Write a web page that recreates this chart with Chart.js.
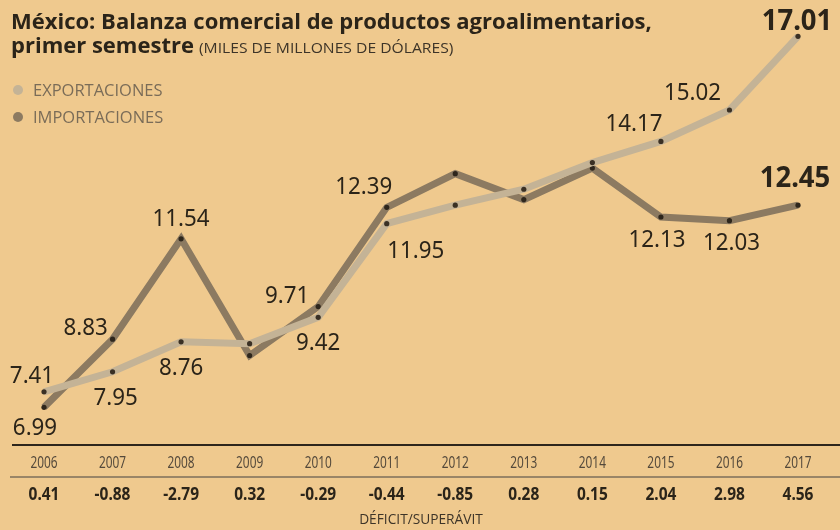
<!DOCTYPE html>
<html>
<head>
<meta charset="utf-8">
<script src="https://cdn.jsdelivr.net/npm/chart.js@4.4.1/dist/chart.umd.min.js"></script>
<style>
  html, body { margin: 0; padding: 0; background: #efc98e; }
  #wrap { width: 840px; height: 530px; }
</style>
</head>
<body>
<div id="wrap"><canvas id="grafica" width="840" height="530"></canvas></div>
<script>
// Datos (miles de millones de dólares, primer semestre)
const anios = ['2006', '2007', '2008', '2009', '2010', '2011', '2012', '2013', '2014', '2015', '2016', '2017'];
const exportaciones = [7.41, 7.95, 8.76, 8.71, 9.42, 11.95, 12.45, 12.88, 13.60, 14.17, 15.02, 17.01];
const importaciones = [6.99, 8.83, 11.54, 8.39, 9.71, 12.39, 13.30, 12.60, 13.45, 12.13, 12.03, 12.45];
const saldo = ['0.41', '-0.88', '-2.79', '0.32', '-0.29', '-0.44', '-0.85', '0.28', '0.15', '2.04', '2.98', '4.56'];

// qué puntos llevan etiqueta y dónde (desplazamiento respecto al punto)
const etiquetasExp = { 0: [-12, -9], 1: [3, 33], 2: [0, 33], 4: [0, 33], 5: [29, 34], 9: [-27, -10], 10: [-37, -10], 11: [-1, -6, true] };
const etiquetasImp = { 0: [-9, 28], 1: [-27, -4], 2: [0, -13], 4: [-31, -4], 5: [-23, -13], 9: [-4, 30], 10: [2, 29], 11: [-3, -18, true] };

const TINTA = '#2b2419';
const FONDO = '#efc98e';
const COL_EXP = '#c4b396';
const COL_IMP = '#8c7a61';

// texto con escala horizontal (la tipografía original es condensada)
function txt(ctx, s, x, y, font, color, align, sx) {
  ctx.save();
  ctx.font = font;
  ctx.fillStyle = color;
  ctx.textBaseline = 'alphabetic';
  const w = ctx.measureText(s).width * sx;
  let x0 = x;
  if (align === 'center') x0 = x - w / 2;
  if (align === 'right') x0 = x - w;
  ctx.translate(x0, y);
  ctx.scale(sx, 1);
  ctx.fillText(s, 0, 0);
  ctx.restore();
  return w;
}

const fondo = {
  id: 'fondo',
  beforeDraw(chart) {
    const c = chart.ctx;
    c.save();
    c.fillStyle = FONDO;
    c.fillRect(0, 0, chart.width, chart.height);
    c.restore();
  }
};

const etiquetas = {
  id: 'etiquetas',
  afterDatasetsDraw(chart) {
    const c = chart.ctx;
    [[0, etiquetasExp, exportaciones], [1, etiquetasImp, importaciones]].forEach(([di, conf, vals]) => {
      const meta = chart.getDatasetMeta(di);
      Object.keys(conf).forEach(k => {
        const p = meta.data[k];
        const [dx, dy, negrita] = conf[k];
        const font = negrita ? "bold 28px 'Noto Sans'" : "24px 'Noto Sans'";
        txt(c, vals[k].toFixed(2), p.x + dx, p.y + dy, font, TINTA, 'center', negrita ? 0.98 : 0.93);
      });
    });
  }
};

const marco = {
  id: 'marco',
  afterDraw(chart) {
    const c = chart.ctx;
    const xs = chart.scales.x;
    const base = chart.chartArea.bottom;

    // título
    txt(c, 'México: Balanza comercial de productos agroalimentarios,', 11, 29, "bold 22px 'Open Sans'", TINTA, 'left', 1.0);
    const w = txt(c, 'primer semestre', 11, 53, "bold 22px 'Open Sans'", TINTA, 'left', 1.0);
    txt(c, '(MILES DE MILLONES DE DÓLARES)', 11 + w + 5, 53, "14px 'Open Sans'", '#3d3428', 'left', 1.12);

    // leyenda
    [['EXPORTACIONES', COL_EXP, 96], ['IMPORTACIONES', COL_IMP, 123]].forEach(([t, col, y]) => {
      c.beginPath();
      c.arc(18, y - 6, 5, 0, Math.PI * 2);
      c.fillStyle = col;
      c.fill();
      txt(c, t, 33, y, "16px 'Open Sans'", '#7a6c58', 'left', 1.03);
    });

    // líneas base
    c.save();
    c.strokeStyle = '#2e261c';
    c.lineWidth = 2;
    c.beginPath();
    c.moveTo(12, base + 1);
    c.lineTo(840, base + 1);
    c.stroke();
    c.strokeStyle = '#7d6e5a';
    c.lineWidth = 1.5;
    c.beginPath();
    c.moveTo(10, 477);
    c.lineTo(840, 477);
    c.stroke();
    c.restore();

    // años y saldo
    anios.forEach((a, i) => {
      const x = xs.getPixelForValue(i);
      txt(c, a, x, 468, "16px 'Noto Sans'", '#54493b', 'center', 0.74);
      txt(c, saldo[i], x, 500, "bold 18px 'Noto Sans'", TINTA, 'center', 0.86);
    });
    txt(c, 'DÉFICIT/SUPERÁVIT', xs.getPixelForValue(5.5), 524, "14px 'Open Sans'", '#3d3428', 'center', 0.98);
  }
};

new Chart(document.getElementById('grafica'), {
  type: 'line',
  data: {
    labels: anios,
    datasets: [
      {
        label: 'Exportaciones',
        data: exportaciones,
        borderColor: COL_EXP,
        borderWidth: 7,
        pointRadius: 2.6,
        pointBackgroundColor: '#3a3024',
        pointBorderWidth: 0,
        tension: 0,
        clip: false
      },
      {
        label: 'Importaciones',
        data: importaciones,
        borderColor: COL_IMP,
        borderWidth: 7,
        pointRadius: 2.6,
        pointBackgroundColor: '#2e261c',
        pointBorderWidth: 0,
        tension: 0,
        clip: false
      }
    ]
  },
  options: {
    responsive: false,
    animation: false,
    events: [],
    layout: { padding: { left: 44, right: 42, top: 20, bottom: 86 } },
    plugins: { legend: { display: false }, tooltip: { enabled: false } },
    scales: {
      x: { display: false, offset: false },
      y: { display: false, min: 6, max: 17.45 }
    }
  },
  plugins: [fondo, etiquetas, marco]
});
</script>
</body>
</html>
